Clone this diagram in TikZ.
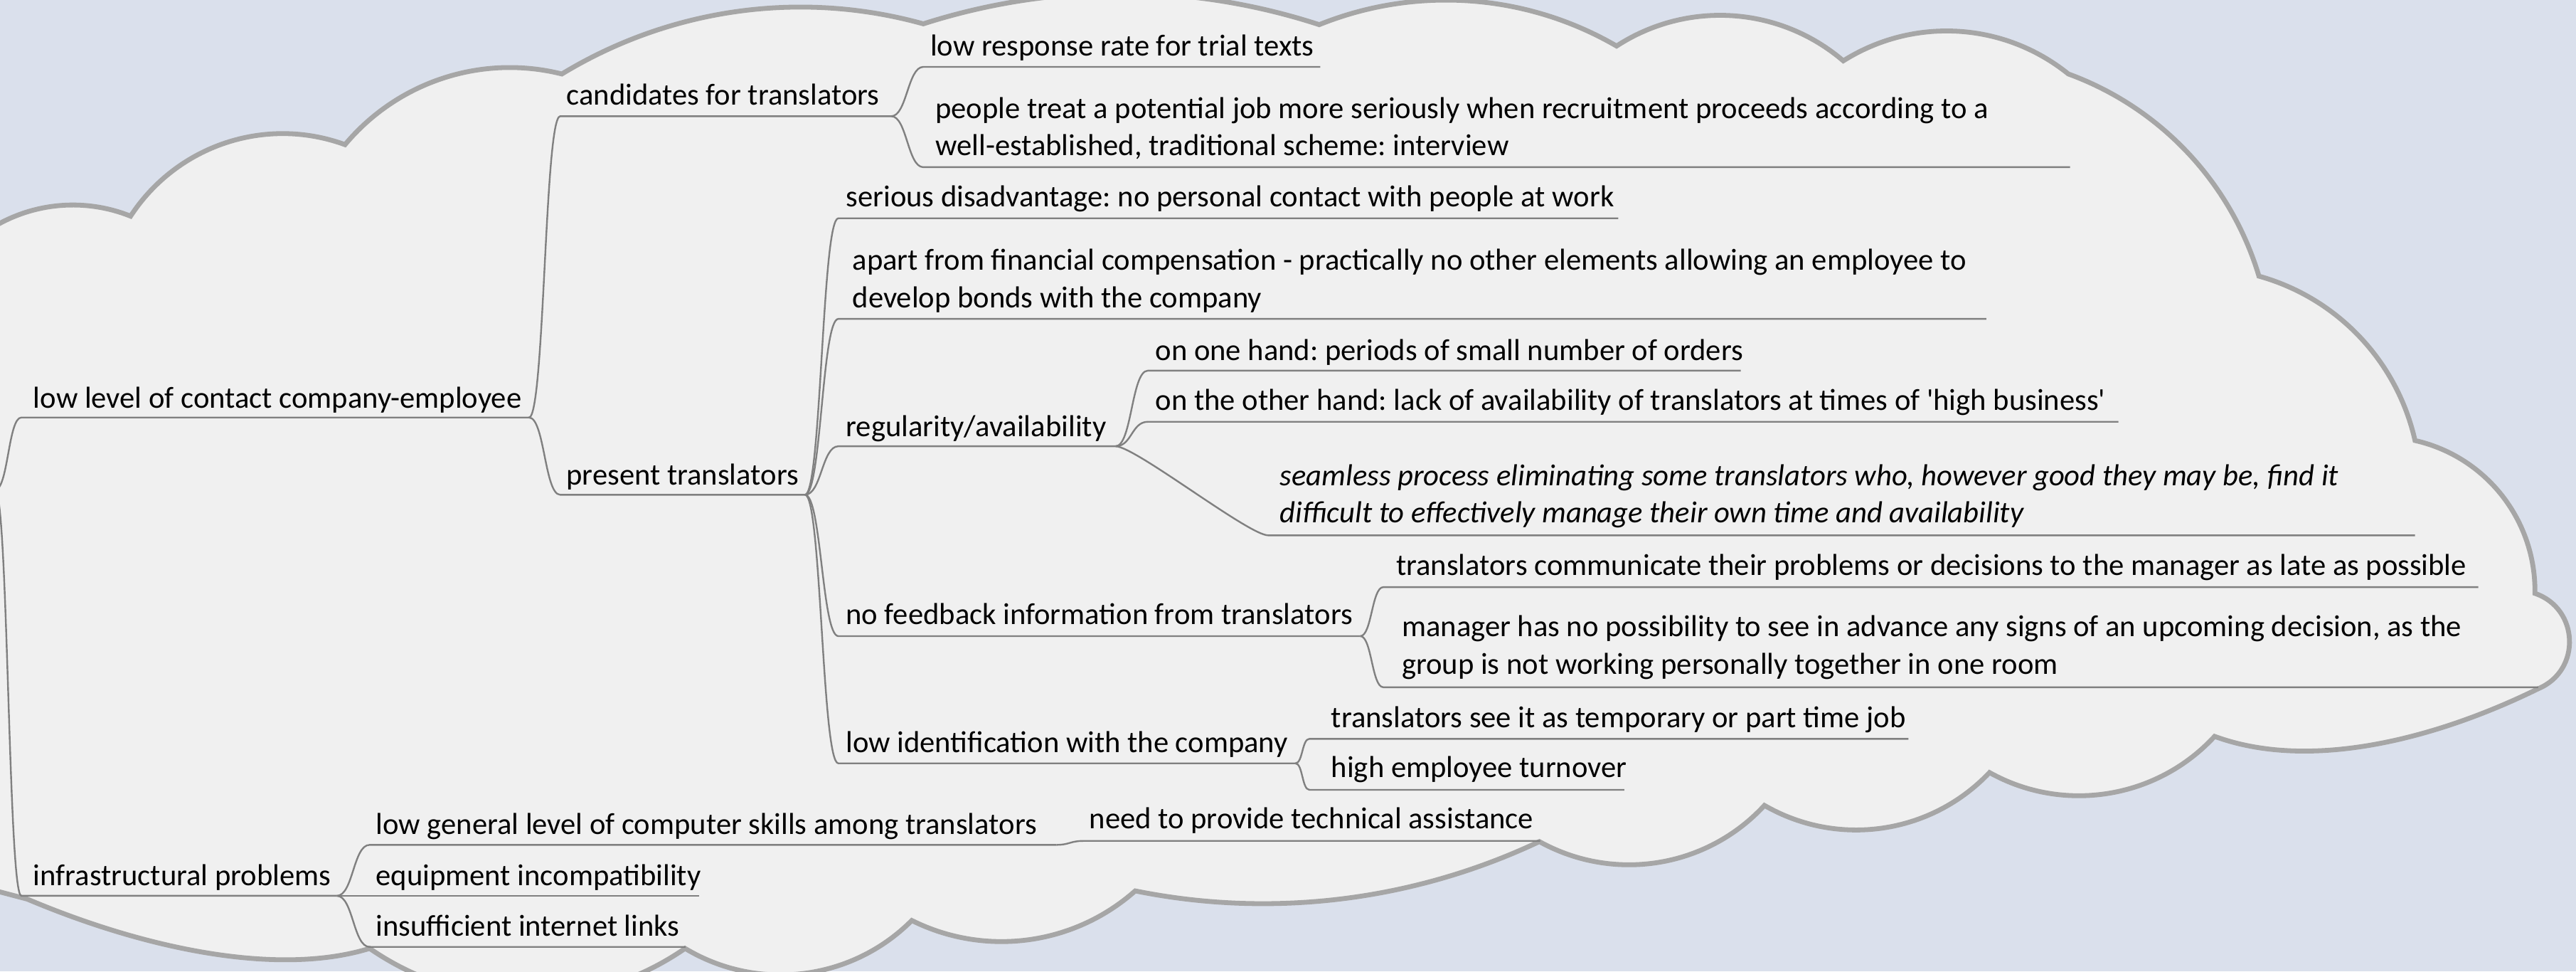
\documentclass[tikz,border=0pt]{standalone}
\usepackage{fontspec}
\setmainfont{Carlito}
\frenchspacing
\newcommand\topicfont{\fontsize{10.65pt}{13.2pt}\selectfont}
\definecolor{bgblue}{RGB}{218,224,236}
\definecolor{cloudfill}{RGB}{240,240,240}
\definecolor{cloudedge}{RGB}{166,166,166}
\definecolor{linegray}{RGB}{128,128,128}
\begin{document}
\begin{tikzpicture}[x=0.5775pt,y=-0.5775pt,
  topic/.style={anchor=base west,inner sep=0pt,font=\topicfont,text=black,yshift=-1.1pt},
  topictwo/.style={topic,text width=560pt,align=flush left},
  conn/.style={draw=linegray,line width=0.6pt},
  cloudshape/.style={fill=cloudfill,draw=cloudedge,line width=1.7pt,line join=miter}]
\useasboundingbox (0,0) rectangle (1568,591);
\clip (0,0) rectangle (1568,591);
\fill[bgblue] (0,0) rectangle (1568,591);
% cloud
\path[cloudshape] (-10,142)
  .. controls (16.1,123.5) and (49.8,119.6) .. (79.5,131.5)
  .. controls (107.6,88.4) and (161.7,70.3) .. (210,88)
  .. controls (242.1,49.6) and (293.3,32.8) .. (342,45)
  .. controls (408,4.9) and (487.6,-6.2) .. (562,14.5)
  .. controls (640.4,-10.6) and (724.8,-10.5) .. (803,15)
  .. controls (862.1,-8.8) and (928.9,-4) .. (984,28)
  .. controls (1026.9,0.1) and (1083.1,3.7) .. (1122,37)
  .. controls (1164.7,10.1) and (1219.7,13.3) .. (1259,45)
  .. controls (1314.9,65.4) and (1357.9,111) .. (1375,168)
  .. controls (1422.7,181.3) and (1459.1,219.7) .. (1470,268)
  .. controls (1513.3,277.8) and (1543.7,316.6) .. (1543,361)
  .. controls (1570,370.2) and (1571.4,408) .. (1545,419)
  .. controls (1486,448) and (1408,470) .. (1348,448)
  .. controls (1312.9,486.1) and (1255.9,495.1) .. (1211,470)
  .. controls (1175.4,507.6) and (1118.8,515.8) .. (1074,490)
  .. controls (1038.9,528.1) and (982.3,537.1) .. (937,512)
  .. controls (860.3,548.2) and (774.1,558.8) .. (691,542)
  .. controls (653.6,575.1) and (599.8,582.3) .. (555,560)
  .. controls (518.4,596.7) and (461.4,603.7) .. (417,577)
  .. controls (359.2,617) and (282.8,617) .. (225,577)
  .. controls (170,594) and (90,578) .. (16.6,547)
  -- (-10,540) -- cycle;
% anchor points of the underlines
\coordinate (P0) at (-3,298);
\coordinate (r1L) at (13,254);      \coordinate (r1R) at (322,254);
\coordinate (r2L) at (13,545);      \coordinate (r2R) at (205,545);
\coordinate (aL) at (341,70.7);     \coordinate (aR) at (542.5,70.7);
\coordinate (bL) at (341,301);      \coordinate (bR) at (490,301);
\coordinate (a1L) at (562,40.7);    \coordinate (a1R) at (803.6,40.7);
\coordinate (a2L) at (562,101.7);   \coordinate (a2R) at (1260,101.7);
\coordinate (b1L) at (510.3,132.8); \coordinate (b1R) at (985,132.8);
\coordinate (b2L) at (510.3,194);   \coordinate (b2R) at (1209,194);
\coordinate (b3L) at (510.3,271.5); \coordinate (b3R) at (679,271.5);
\coordinate (b4L) at (510.3,387);   \coordinate (b4R) at (828,387);
\coordinate (b5L) at (510.3,464.4); \coordinate (b5R) at (788.5,464.4);
\coordinate (b3aL) at (698.7,225.5); \coordinate (b3aR) at (1059.6,225.5);
\coordinate (b3bL) at (698.7,256.6); \coordinate (b3bR) at (1289.5,256.6);
\coordinate (b3cL) at (772,325.7);   \coordinate (b3cR) at (1470,325.7);
\coordinate (b4aL) at (842,357.2);   \coordinate (b4aR) at (1508.5,357.2);
\coordinate (b4bL) at (842,418.1);   \coordinate (b4bR) at (1545,418.1);
\coordinate (b5aL) at (797,449.5);   \coordinate (b5aR) at (1161.7,449.5);
\coordinate (b5bL) at (797,480.5);   \coordinate (b5bR) at (988.7,480.5);
\coordinate (c1L) at (225,514);      \coordinate (c1R) at (643,514);
\coordinate (c2L) at (225,545);      \coordinate (c2R) at (425.6,545);
\coordinate (c3L) at (225,576.1);    \coordinate (c3R) at (417.3,576.1);
\coordinate (c1aL) at (659.4,511.6); \coordinate (c1aR) at (937.5,511.6);
% connectors with underlines
\draw[conn] (P0) .. controls +(8,0) and +(-8,0) .. (r1L) -- (r1R);
\draw[conn] (P0) .. controls +(8,0) and +(-8,0) .. (r2L) -- (r2R);
\draw[conn] (r1R) .. controls +(9.5,0) and +(-9.5,0) .. (aL) -- (aR);
\draw[conn] (r1R) .. controls +(9.5,0) and +(-9.5,0) .. (bL) -- (bR);
\draw[conn] (aR) .. controls +(9.5,0) and +(-9.5,0) .. (a1L) -- (a1R);
\draw[conn] (aR) .. controls +(9.5,0) and +(-9.5,0) .. (a2L) -- (a2R);
\draw[conn] (bR) .. controls +(10,0) and +(-10,0) .. (b1L) -- (b1R);
\draw[conn] (bR) .. controls +(10,0) and +(-10,0) .. (b2L) -- (b2R);
\draw[conn] (bR) .. controls +(10,0) and +(-10,0) .. (b3L) -- (b3R);
\draw[conn] (bR) .. controls +(10,0) and +(-10,0) .. (b4L) -- (b4R);
\draw[conn] (bR) .. controls +(10,0) and +(-10,0) .. (b5L) -- (b5R);
\draw[conn] (b3R) .. controls +(10,0) and +(-10,0) .. (b3aL) -- (b3aR);
\draw[conn] (b3R) .. controls +(10,0) and +(-10,0) .. (b3bL) -- (b3bR);
\draw[conn] (b3R) .. controls +(12,0) and +(-12,0) .. (b3cL) -- (b3cR);
\draw[conn] (b4R) .. controls +(7,0) and +(-7,0) .. (b4aL) -- (b4aR);
\draw[conn] (b4R) .. controls +(7,0) and +(-7,0) .. (b4bL) -- (b4bR);
\draw[conn] (b5R) .. controls +(4.5,0) and +(-4.5,0) .. (b5aL) -- (b5aR);
\draw[conn] (b5R) .. controls +(4.5,0) and +(-4.5,0) .. (b5bL) -- (b5bR);
\draw[conn] (r2R) .. controls +(10,0) and +(-10,0) .. (c1L) -- (c1R);
\draw[conn] (r2R) -- (c2L) -- (c2R);
\draw[conn] (r2R) .. controls +(10,0) and +(-10,0) .. (c3L) -- (c3R);
\draw[conn] (c1R) .. controls +(8,0) and +(-8,0) .. (c1aL) -- (c1aR);
% texts
\node[topic] (r1) at (20,246.5) {low level of contact company-employee};
\node[topic] (r2) at (20,537) {infrastructural problems};
\node[topic] (a) at (344.5,62) {candidates for translators};
\node[topic] (b) at (344.5,293) {present translators};
\node[topic] (a1) at (566,32) {low response rate for trial texts};
\node[topictwo] (a2) at (569,70) {people treat a potential job more seriously when recruitment proceeds according to a\\ well-established, traditional scheme: interview};
\node[topic] (b1) at (514.6,124) {serious disadvantage: no personal contact with people at work};
\node[topictwo] (b2) at (518.6,162.3) {apart from financial compensation - practically no other elements allowing an employee to\\ develop bonds with the company};
\node[topic] (b3) at (514.6,263.5) {regularity/availability};
\node[topic] (b4) at (514.6,378) {no feedback information from translators};
\node[topic] (b5) at (514.6,456) {low identification with the company};
\node[topic] (b3a) at (703,217.2) {on one hand: periods of small number of orders};
\node[topic] (b3b) at (703,247.8) {on the other hand: lack of availability of translators at times of \textquotesingle high business\textquotesingle};
\node[topictwo,font=\topicfont\itshape] (b3c) at (778.8,293.4) {seamless process eliminating some translators who, however good they may be, find it\\ difficult to effectively manage their own time and availability};
\node[topic] (b4a) at (849.5,348) {translators communicate their problems or decisions to the manager as late as possible};
\node[topictwo] (b4b) at (853,385.3) {manager has no possibility to see in advance any signs of an upcoming decision, as the\\ group is not working personally together in one room};
\node[topic] (b5a) at (810,440.8) {translators see it as temporary or part time job};
\node[topic] (b5b) at (810,471.1) {high employee turnover};
\node[topic] (c1) at (228.5,505.5) {low general level of computer skills among translators};
\node[topic] (c2) at (228.5,537) {equipment incompatibility};
\node[topic] (c3) at (228.5,567.6) {insufficient internet links};
\node[topic] (c1a) at (662.8,502.2) {need to provide technical assistance};
\end{tikzpicture}
\end{document}
